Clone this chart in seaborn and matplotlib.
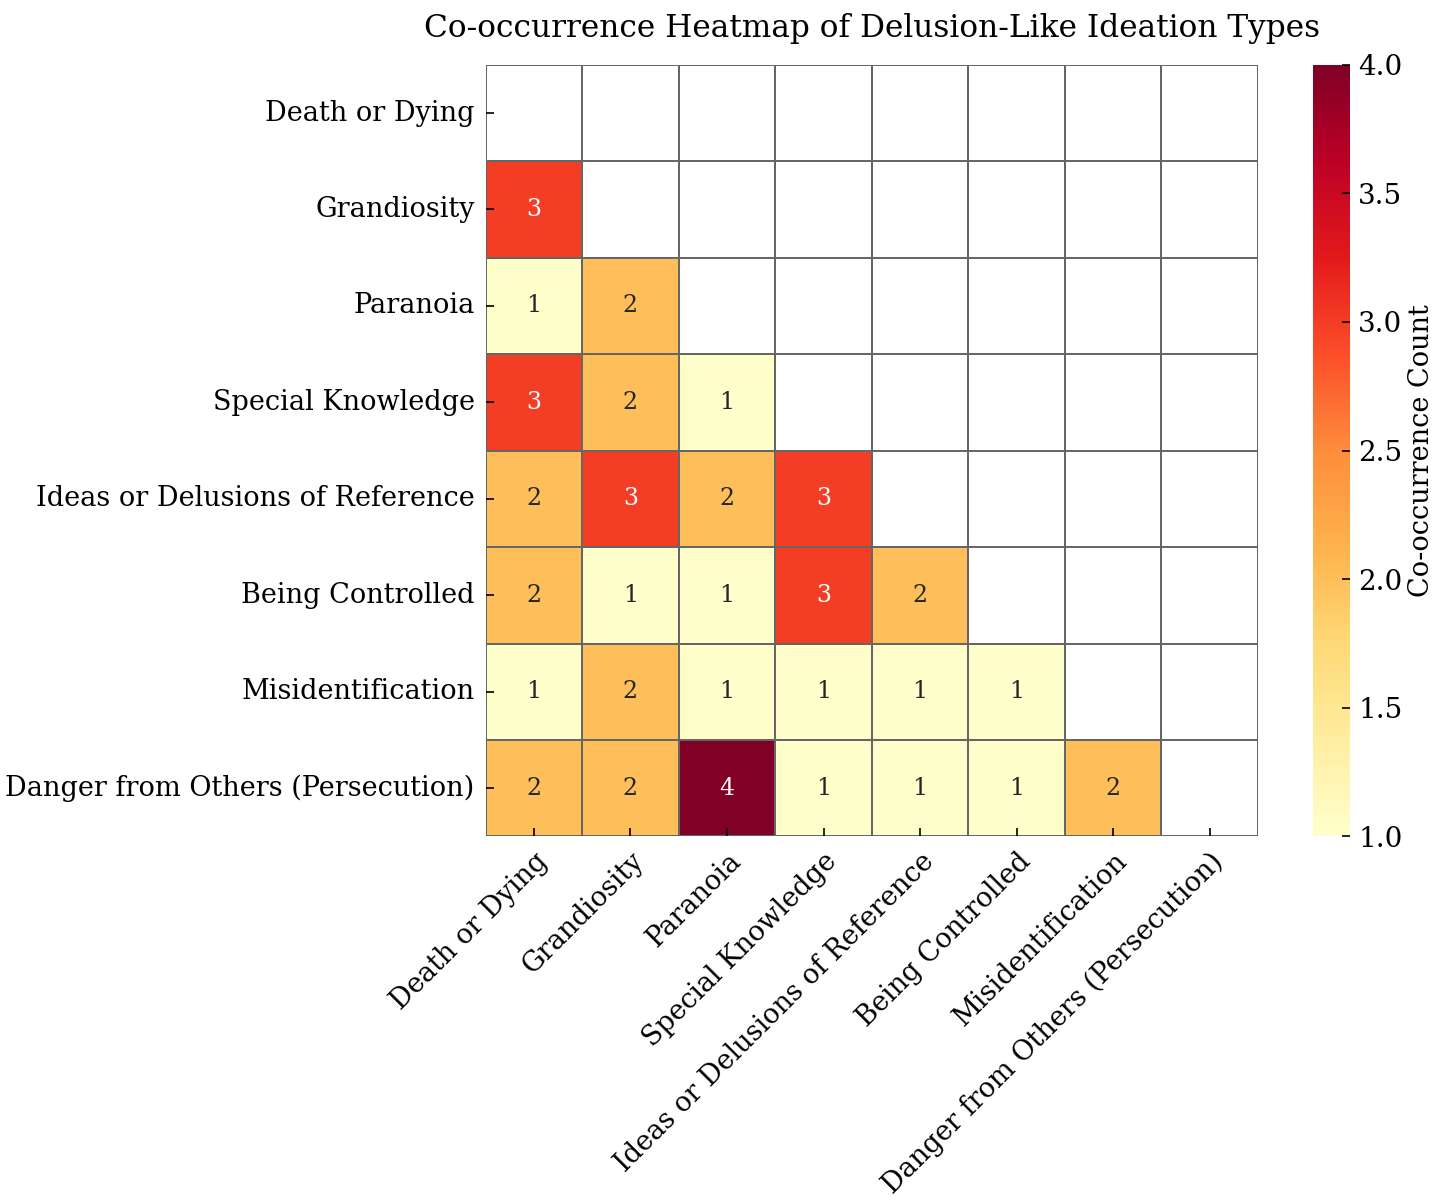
import numpy as np
import pandas as pd
import matplotlib
matplotlib.use('Agg')
import matplotlib.pyplot as plt
from matplotlib.colors import ListedColormap
import seaborn as sns

# Ideation types (same order on both axes)
labels = ['Death or Dying', 'Grandiosity', 'Paranoia', 'Special Knowledge',
          'Ideas or Delusions of Reference', 'Being Controlled',
          'Misidentification', 'Danger from Others (Persecution)']

# lower-triangle co-occurrence counts, row by row
row_grandiosity = [3]
row_paranoia = [1, 2]
row_special = [3, 2, 1]
row_reference = [2, 3, 2, 3]
row_controlled = [2, 1, 1, 3, 2]
row_misident = [1, 2, 1, 1, 1, 1]
row_danger = [2, 2, 4, 1, 1, 1, 2]

rows = [[], row_grandiosity, row_paranoia, row_special, row_reference,
        row_controlled, row_misident, row_danger]

n = len(labels)
mat = np.full((n, n), np.nan)
for i, r in enumerate(rows):
    mat[i, :len(r)] = r
df = pd.DataFrame(mat, index=labels, columns=labels)
mask = np.triu(np.ones((n, n), dtype=bool))

plt.rcParams['font.family'] = ['DejaVu Serif']

fig = plt.figure(figsize=(14.41, 12), dpi=100)
ax = fig.add_axes([0.337, 0.303, 0.536, 0.643])
cax = fig.add_axes([0.911, 0.303, 0.0257, 0.643])

# white grid underneath so masked cells still show borders
sns.heatmap(pd.DataFrame(np.zeros((n, n)), index=labels, columns=labels),
            cmap=ListedColormap(['white']), cbar=False, linewidths=1.2,
            linecolor='#666666', ax=ax)
sns.heatmap(df, mask=mask, cmap='YlOrRd', vmin=1, vmax=4, annot=True, fmt='.0f',
            annot_kws={'fontsize': 17}, linewidths=1.2, linecolor='#666666',
            ax=ax, cbar_ax=cax, cbar_kws={'label': 'Co-occurrence Count'})

ax.set_title('Co-occurrence Heatmap of Delusion-Like Ideation Types',
             fontsize=22.5, pad=20)
ax.set_xticklabels(labels, rotation=45, ha='right', rotation_mode='anchor',
                   fontsize=19.5)
ax.set_yticklabels(labels, rotation=0, fontsize=19.5)
ax.tick_params(direction='in', length=6, width=1.2, pad=8)

cax.tick_params(direction='in', length=6, width=1.2, labelsize=20, pad=6)
cax.set_yticks([1.0, 1.5, 2.0, 2.5, 3.0, 3.5, 4.0])
cax.set_ylabel('Co-occurrence Count', fontsize=19.5)
for s in cax.spines.values():
    s.set_visible(False)

fig.savefig('out.png', dpi=100)
